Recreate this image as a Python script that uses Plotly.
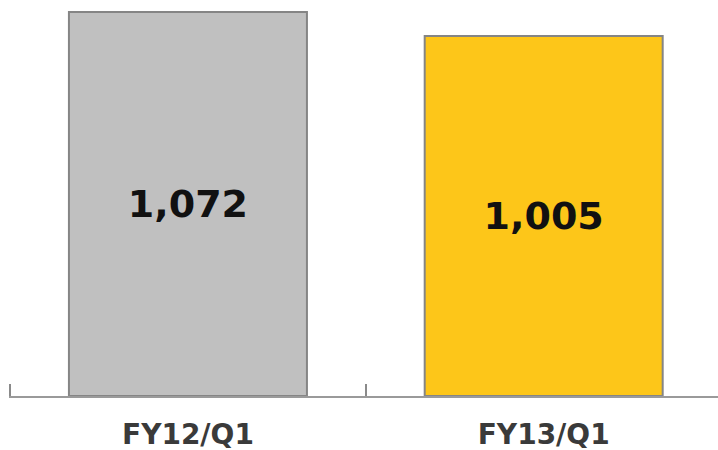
import plotly.graph_objects as go

categories = ["FY12/Q1", "FY13/Q1"]
values = [1072, 1005]
value_labels = ["1,072", "1,005"]
bar_colors = ["#c0c0c0", "#fdc619"]

fig = go.Figure(go.Bar(
    x=categories,
    y=values,
    text=value_labels,
    textposition="inside",
    insidetextanchor="middle",
    textangle=0,
    textfont=dict(family="DejaVu Sans", size=38, color="#111111", weight="bold"),
    marker=dict(color=bar_colors, line=dict(color="#858585", width=2)),
    hoverinfo="skip",
))

fig.update_layout(
    width=718, height=450,
    margin=dict(l=9, r=0, t=0, b=54, autoexpand=False),
    paper_bgcolor="white", plot_bgcolor="white",
    bargap=0.331,
    showlegend=False,
)
fig.update_xaxes(
    automargin=False,
    range=[-0.503, 1.49],
    showline=True, linecolor="#9a9a9a", linewidth=2,
    ticks="inside", tickson="boundaries", ticklen=12, tickwidth=2, tickcolor="#8a8a8a",
    tickfont=dict(family="DejaVu Sans", size=28, color="#3a3a3a", weight="bold"),
    ticklabelstandoff=12,
    showgrid=False, zeroline=False,
)
fig.update_yaxes(visible=False, automargin=False, range=[0, 1105.5], showgrid=False, zeroline=False)

fig.write_html(
    "out.html",
    config={"displayModeBar": False},
    post_script="document.body.style.margin='0';document.body.style.padding='0';",
)
